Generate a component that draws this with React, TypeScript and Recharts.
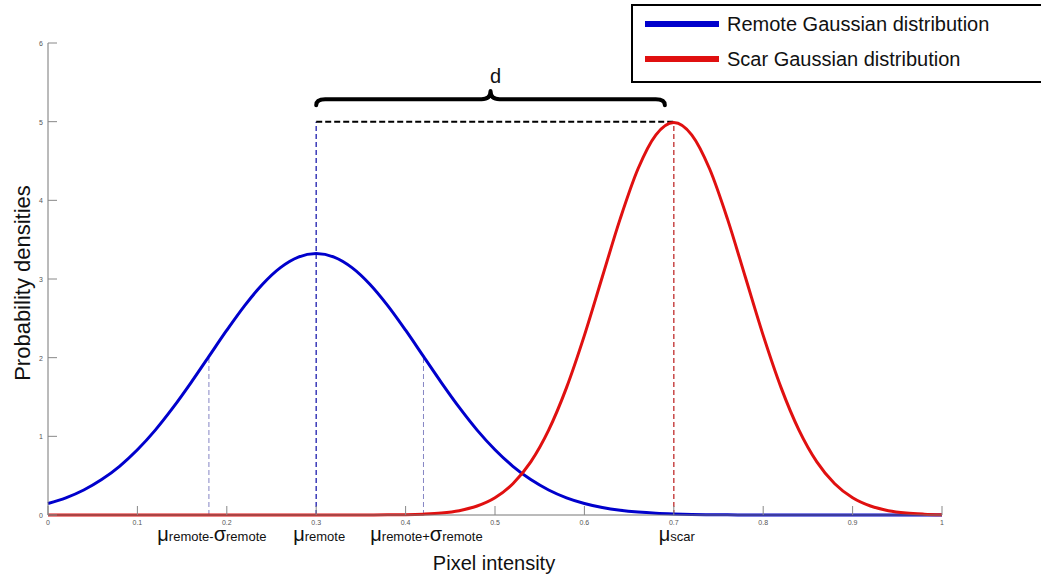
import { LineChart, Line, XAxis, YAxis, ReferenceLine, ReferenceArea, Legend } from 'recharts';

const FONT = '"Liberation Sans", Arial, sans-serif';
const BLUE = '#0000cc';
const RED = '#e01010';

// sample positions along pixel intensity
const xValues = [
  0, 0.02, 0.04, 0.06, 0.08, 0.1, 0.12, 0.14, 0.16, 0.18,
  0.2, 0.22, 0.24, 0.26, 0.28, 0.3, 0.32, 0.34, 0.36, 0.38,
  0.4, 0.42, 0.44, 0.46, 0.48, 0.5, 0.52, 0.54, 0.56, 0.58,
  0.6, 0.62, 0.64, 0.66, 0.68, 0.7, 0.72, 0.74, 0.76, 0.78,
  0.8, 0.82, 0.84, 0.86, 0.88, 0.9, 0.92, 0.94, 0.96, 0.98, 1,
];

// remote tissue density
const remoteDensity = [
  0.146, 0.218, 0.318, 0.45, 0.619, 0.829, 1.079, 1.367, 1.683, 2.016,
  2.349, 2.662, 2.934, 3.145, 3.279, 3.324, 3.279, 3.145, 2.934, 2.662,
  2.349, 2.016, 1.683, 1.367, 1.079, 0.829, 0.619, 0.45, 0.318, 0.218,
  0.146, 0.095, 0.06, 0.037, 0.022, 0.013, 0.007, 0.004, 0.002, 0.001,
  0, 0, 0, 0, 0, 0, 0, 0, 0, 0, 0,
];

// scar tissue density
const scarDensity = [
  0, 0, 0, 0, 0, 0, 0, 0, 0, 0,
  0, 0, 0, 0, 0, 0, 0, 0, 0.001, 0.002,
  0.004, 0.011, 0.025, 0.055, 0.114, 0.219, 0.397, 0.675, 1.079, 1.619,
  2.283, 3.025, 3.764, 4.401, 4.833, 4.99, 4.833, 4.401, 3.764, 3.025,
  2.283, 1.619, 1.079, 0.675, 0.397, 0.219, 0.114, 0.055, 0.025, 0.011, 0.004,
];

const xTicks = [0, 0.1, 0.2, 0.3, 0.4, 0.5, 0.6, 0.7, 0.8, 0.9, 1];
const yTicks = [0, 1, 2, 3, 4, 5, 6];

const muRemote = 0.3;
const sigmaRemote = 0.12;
const muScar = 0.7;
const peakLevel = 5;
const braceSpan = [0.3, 0.69];
const braceLevels = [5.21, 5.39];

const data = xValues.map((x, i) => ({ x, remote: remoteDensity[i], scar: scarDensity[i] }));

const remoteAt = (x: number) => remoteDensity[xValues.findIndex((v) => Math.abs(v - x) < 1e-6)];

const XTick = ({ x, y, payload }: any) => (
  <g>
    <line x1={x} x2={x} y1={y} y2={y - 9} stroke="#888" />
    <text x={x} y={y + 10} textAnchor="middle" fontSize={7} fill="#555" fontFamily={FONT}>
      {payload.value}
    </text>
  </g>
);

const YTick = ({ x, y, payload }: any) => (
  <g>
    <line x1={x} x2={x + 9} y1={y} y2={y} stroke="#888" />
    <text x={x - 5} y={y + 3} textAnchor="end" fontSize={7} fill="#555" fontFamily={FONT}>
      {payload.value}
    </text>
  </g>
);

// μ / σ symbols big, subscripts small
const MuLabel = ({ viewBox, parts }: any) => (
  <text
    x={viewBox.x + 3}
    y={viewBox.y + viewBox.height + 26}
    textAnchor="middle"
    fill="#111"
    fontFamily={FONT}
  >
    {parts.map(([t, big]: [string, boolean], i: number) => (
      <tspan key={i} fontSize={big ? 20 : 13}>{t}</tspan>
    ))}
  </text>
);

const XTitle = ({ viewBox }: any) => (
  <text x={viewBox.x + viewBox.width / 2 - 1} y={viewBox.y + 55} textAnchor="middle" fontSize={20} fill="#111" fontFamily={FONT}>
    Pixel intensity
  </text>
);

const YTitle = ({ viewBox }: any) => {
  const cx = viewBox.x + 22;
  const cy = viewBox.y + viewBox.height / 2 + 4;
  return (
    <text x={cx} y={cy} transform={`rotate(-90 ${cx} ${cy})`} textAnchor="middle" dominantBaseline="central" fontSize={22} fill="#111" fontFamily={FONT}>
      Probability densities
    </text>
  );
};

const Brace = ({ x, y, width, height }: any) => {
  const x0 = x;
  const x1 = x + width;
  const xc = x + width / 2;
  const yT = y;
  const yB = y + height;
  const yM = yB - height * 0.42;
  const r = 9;
  const d = `M${x0},${yB} Q${x0},${yM} ${x0 + r},${yM} L${xc - r},${yM} Q${xc},${yM} ${xc},${yT} Q${xc},${yM} ${xc + r},${yM} L${x1 - r},${yM} Q${x1},${yM} ${x1},${yB}`;
  return <path d={d} fill="none" stroke="#000" strokeWidth={4} strokeLinecap="round" strokeLinejoin="round" />;
};

const DLabel = ({ viewBox }: any) => (
  <text x={viewBox.x + viewBox.width / 2 + 5} y={viewBox.y - 8} textAnchor="middle" fontSize={20} fill="#111" fontFamily={FONT}>
    d
  </text>
);

const LegendBox = ({ payload }: any) => (
  <div
    style={{
      position: 'relative',
      width: 420,
      height: 79,
      boxSizing: 'border-box',
      border: '2px solid #000',
      background: '#fff',
      fontFamily: FONT,
    }}
  >
    {(payload || []).map((entry: any, i: number) => (
      <div key={entry.value}>
        <div style={{ position: 'absolute', left: 12, top: 15 + i * 35, width: 74, height: 6, background: entry.color }} />
        <div style={{ position: 'absolute', left: 94, top: 6 + i * 35, height: 24, lineHeight: '24px', fontSize: 20, color: '#111', whiteSpace: 'nowrap' }}>
          {entry.value}
        </div>
      </div>
    ))}
  </div>
);

export default function App() {
  return (
    <div style={{ position: 'absolute', left: 0, top: 0, width: 1041, height: 576, overflow: 'hidden', background: '#fff' }}>
      <LineChart width={1041} height={576} data={data} margin={{ top: 43, right: 99, bottom: 0, left: 0 }}>
        <XAxis
          dataKey="x"
          type="number"
          domain={[0, 1]}
          ticks={xTicks}
          tick={<XTick />}
          tickLine={false}
          tickSize={0}
          tickMargin={0}
          height={61}
          axisLine={{ stroke: '#777' }}
          label={<XTitle />}
        />
        <YAxis
          type="number"
          domain={[0, 6]}
          ticks={yTicks}
          tick={<YTick />}
          tickLine={false}
          tickSize={0}
          tickMargin={0}
          width={48}
          axisLine={{ stroke: '#777' }}
          label={<YTitle />}
        />
        <Legend
          layout="vertical"
          align="center"
          verticalAlign="middle"
          wrapperStyle={{ left: 631, top: 4, width: 420, height: 79 }}
          content={<LegendBox />}
        />

        <ReferenceLine
          segment={[{ x: muRemote - sigmaRemote, y: 0 }, { x: muRemote - sigmaRemote, y: remoteAt(muRemote - sigmaRemote) }]}
          stroke="#8585c4"
          strokeDasharray="5 3"
          label={<MuLabel parts={[['μ', true], ['remote', false], ['-', false], ['σ', true], ['remote', false]]} />}
        />
        <ReferenceLine
          segment={[{ x: muRemote + sigmaRemote, y: 0 }, { x: muRemote + sigmaRemote, y: remoteAt(muRemote + sigmaRemote) }]}
          stroke="#8585c4"
          strokeDasharray="5 3"
          label={<MuLabel parts={[['μ', true], ['remote', false], ['+', false], ['σ', true], ['remote', false]]} />}
        />
        <ReferenceLine
          segment={[{ x: muRemote, y: 0 }, { x: muRemote, y: peakLevel }]}
          stroke="#3a3ab8"
          strokeWidth={1.5}
          strokeDasharray="5 3"
          label={<MuLabel parts={[['μ', true], ['remote', false]]} />}
        />
        <ReferenceLine
          segment={[{ x: muScar, y: 0 }, { x: muScar, y: peakLevel }]}
          stroke="#c84848"
          strokeWidth={1.5}
          strokeDasharray="5 3"
          label={<MuLabel parts={[['μ', true], ['scar', false]]} />}
        />
        <ReferenceLine
          segment={[{ x: muRemote, y: peakLevel }, { x: muScar, y: peakLevel }]}
          stroke="#000"
          strokeWidth={2}
          strokeDasharray="6 3"
        />
        <ReferenceArea
          x1={braceSpan[0]}
          x2={braceSpan[1]}
          y1={braceLevels[0]}
          y2={braceLevels[1]}
          shape={Brace}
          label={<DLabel />}
        />

        <Line
          type="monotone"
          dataKey="remote"
          name="Remote Gaussian distribution"
          stroke={BLUE}
          strokeWidth={3}
          dot={false}
          activeDot={false}
          isAnimationActive={false}
        />
        <Line
          type="monotone"
          dataKey="scar"
          name="Scar Gaussian distribution"
          stroke={RED}
          strokeWidth={3}
          dot={false}
          activeDot={false}
          isAnimationActive={false}
        />
      </LineChart>
    </div>
  );
}
